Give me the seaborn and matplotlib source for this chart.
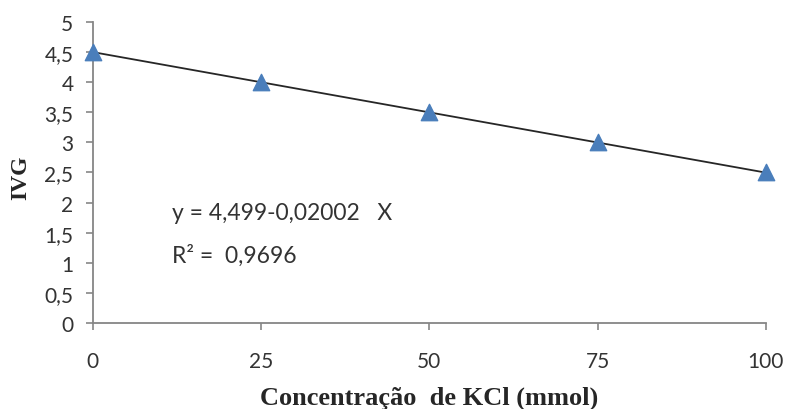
# %% data
import numpy as np
import pandas as pd
import seaborn as sns
import matplotlib.pyplot as plt

concentration = [0, 25, 50, 75, 100]
ivg = [4.5, 4.0, 3.5, 3.0, 2.5]
intercept = 4.499
slope = -0.02002
x_ticks = [0, 25, 50, 75, 100]
y_ticks = [0, 0.5, 1, 1.5, 2, 2.5, 3, 3.5, 4, 4.5, 5]

df = pd.DataFrame({"conc": concentration, "ivg": ivg})
fit = pd.DataFrame({"conc": [0, 100]})
fit["ivg"] = intercept + slope * fit["conc"]

# %% plot
sns.set_style("white")
plt.rcParams["font.family"] = ["Lato", "DejaVu Sans"]

fig = plt.figure(figsize=(7.87, 4.10), dpi=100)
ax = fig.add_axes([0.118, 0.21, 0.855, 0.734])

sns.lineplot(data=fit, x="conc", y="ivg", color="#262626", linewidth=1.3, ax=ax)
sns.scatterplot(data=df, x="conc", y="ivg", marker="^", s=140,
                color="#4a7ebb", edgecolor="#4a7ebb", zorder=3, ax=ax, clip_on=False)

ax.set_xlim(0, 100)
ax.set_ylim(0, 5)
ax.set_xticks(x_ticks)
ax.set_yticks(y_ticks)
ax.set_yticklabels([f"{v:g}".replace(".", ",") for v in y_ticks])
ax.tick_params(axis="both", length=5, color="#868686", labelsize=15,
               labelcolor="#333333", direction="out", width=1.2,
               bottom=True, left=True)
ax.tick_params(axis="x", pad=15)
ax.tick_params(axis="y", pad=9)

for side in ["top", "right"]:
    ax.spines[side].set_visible(False)
for side in ["left", "bottom"]:
    ax.spines[side].set_color("#868686")
    ax.spines[side].set_linewidth(1.3)

ax.set_xlabel("Concentração  de KCl (mmol)", family="Liberation Serif",
              fontweight="bold", fontsize=19, labelpad=11)
ax.set_ylabel("IVG", family="Liberation Serif", fontweight="bold", fontsize=17)
ax.yaxis.set_label_coords(-0.091, 0.485)

ax.text(11.7, 1.84, "y = 4,499-0,02002   X", fontsize=16.5, va="center",
        ha="left", color="#333333")
ax.text(11.7, 1.14, "R² =  0,9696", fontsize=16.5, va="center",
        ha="left", color="#333333")

fig.savefig("out.png", dpi=100)
